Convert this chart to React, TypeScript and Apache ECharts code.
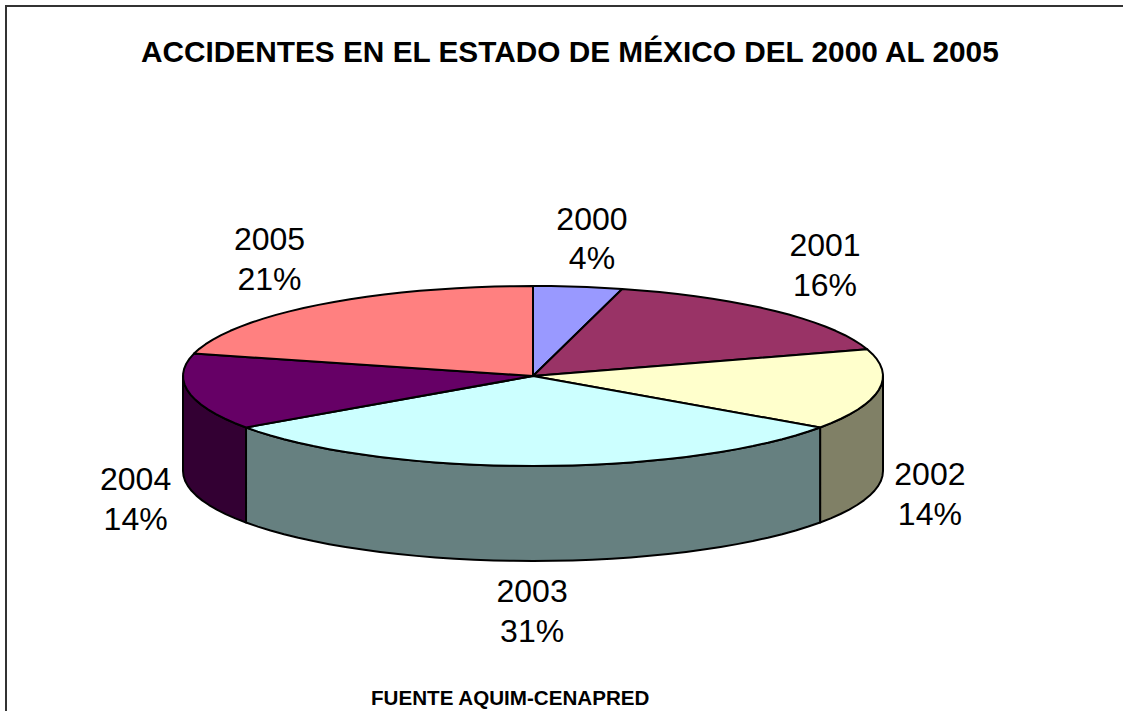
import React, { useEffect, useRef } from "react";
import * as echarts from "echarts";

const years = ["2000", "2001", "2002", "2003", "2004", "2005"];
const shares = [4.1, 16.1, 14.49, 30.61, 13.7, 21];
const topColors = ["#9999FF", "#993366", "#FFFFCC", "#CCFFFF", "#660066", "#FF8080"];
const sideColors = ["#4C4C80", "#4C1933", "#808066", "#668080", "#330033", "#804040"];
const labelOffsets = [
  [14, -48],
  [50, -46],
  [51, 9],
  [-1, 50],
  [-53, 12],
  [-49, -46],
];

const CX = 533;
const CY = 376;
const RX = 350;
const RY = 90;
const DEPTH = 95;
const STEP = 3.2;
const total = shares.reduce((a, b) => a + b, 0);

const pt = (deg: number, dy = 0): number[] => {
  const r = (deg * Math.PI) / 180;
  return [CX + RX * Math.sin(r), CY - RY * Math.cos(r) + dy];
};
const arcPts = (a: number, b: number, dy = 0): number[][] => {
  const out: number[][] = [];
  const n = Math.max(1, Math.round(Math.abs(b - a) / STEP));
  for (let i = 0; i <= n; i++) out.push(pt(a + ((b - a) * i) / n, dy));
  return out;
};
const range = (i: number): [number, number] => {
  const before = shares.slice(0, i).reduce((a, b) => a + b, 0);
  return [(before / total) * 360, ((before + shares[i]) / total) * 360];
};
const line = { stroke: "#000", lineWidth: 2, lineJoin: "round" as const };

const renderSide = (_: any, api: any) => {
  const i = api.value(0);
  const [a, b] = range(i);
  const s = Math.max(a, 90);
  const e = Math.min(b, 270);
  if (e <= s) return { type: "group", children: [] };
  return {
    type: "polygon",
    shape: { points: [...arcPts(s, e), ...arcPts(e, s, DEPTH)] },
    style: { fill: sideColors[i], ...line },
  };
};
const renderTop = (_: any, api: any) => {
  const i = api.value(0);
  const [a, b] = range(i);
  return {
    type: "polygon",
    shape: { points: [[CX, CY], ...arcPts(a, b)] },
    style: { fill: topColors[i], ...line },
  };
};
const renderLabel = (_: any, api: any) => {
  const i = api.value(0);
  const [a, b] = range(i);
  const mid = (a + b) / 2;
  const p = pt(mid, mid > 90 && mid < 270 ? DEPTH : 0);
  return {
    type: "text",
    x: p[0] + labelOffsets[i][0],
    y: p[1] + labelOffsets[i][1],
    style: {
      text: `${years[i]}\n${Math.round((shares[i] / total) * 100)}%`,
      font: '32px "Liberation Sans", Arial, sans-serif',
      lineHeight: 39.5,
      fill: "#000",
      align: "center",
      verticalAlign: "middle",
    },
  };
};

export default function App() {
  const ref = useRef<HTMLDivElement>(null);
  useEffect(() => {
    document.body.style.margin = "0";
    const chart = echarts.init(ref.current!, undefined, { renderer: "svg" });
    const data = years.map((_, i) => [i]);
    chart.setOption({
      animation: false,
      backgroundColor: "#fff",
      title: {
        text: "ACCIDENTES EN EL ESTADO DE MÉXICO DEL 2000 AL 2005",
        left: 141,
        top: 36,
        padding: 0,
        textStyle: {
          fontFamily: '"Liberation Sans", Arial, sans-serif',
          fontWeight: "bold",
          fontSize: 29.8,
          color: "#000",
        },
      },
      graphic: [
        { type: "line", shape: { x1: 6, y1: 6, x2: 1123, y2: 6 }, style: { stroke: "#333", lineWidth: 2 } },
        { type: "line", shape: { x1: 6, y1: 5, x2: 6, y2: 711 }, style: { stroke: "#333", lineWidth: 2 } },
        {
          type: "text",
          x: 371,
          y: 697,
          style: {
            text: "FUENTE AQUIM-CENAPRED",
            font: 'bold 20.6px "Liberation Sans", Arial, sans-serif',
            fill: "#000",
            verticalAlign: "middle",
          },
        },
      ],
      series: [
        { type: "custom", coordinateSystem: "none", renderItem: renderSide, data, z: 1, silent: true },
        { type: "custom", coordinateSystem: "none", renderItem: renderTop, data, z: 2, silent: true },
        { type: "custom", coordinateSystem: "none", renderItem: renderLabel, data, z: 3, silent: true },
      ],
    });
    return () => chart.dispose();
  }, []);
  return <div ref={ref} style={{ position: "absolute", left: 0, top: 0, width: 1123, height: 711 }} />;
}
